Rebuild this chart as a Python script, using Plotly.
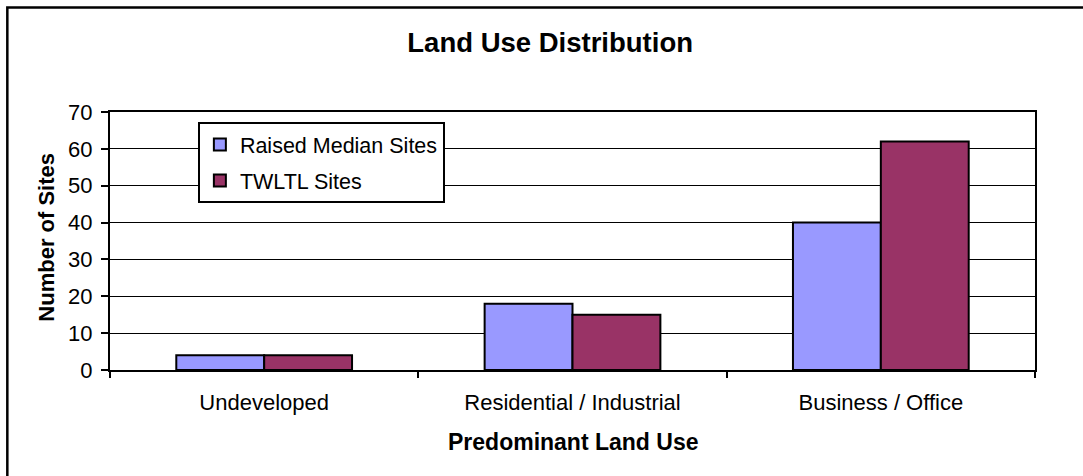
import plotly.graph_objects as go

# data
CATEGORIES   = ['Undeveloped', 'Residential / Industrial', 'Business / Office']
RAISED_MEDIAN = [4, 18, 40]
TWLTL         = [4, 15, 62]
Y_TICKS       = [0, 10, 20, 30, 40, 50, 60, 70]

BLUE   = '#9999FF'
MAROON = '#993366'
FONT   = 'Arial, Liberation Sans, sans-serif'

fig = go.Figure()
fig.add_trace(go.Bar(x=CATEGORIES, y=RAISED_MEDIAN, name='Raised Median Sites',
                     legendgroup='a',
                     marker=dict(color=BLUE, line=dict(color='black', width=2))))
fig.add_trace(go.Bar(x=CATEGORIES, y=TWLTL, name='TWLTL Sites',
                     legendgroup='b',
                     marker=dict(color=MAROON, line=dict(color='black', width=2))))

fig.update_layout(
    width=1083, height=476,
    margin=dict(l=110, r=48, t=112, b=106),
    paper_bgcolor='white', plot_bgcolor='white',
    font=dict(family=FONT, color='black', size=22),
    barmode='group', bargap=0.43, bargroupgap=0,
    title=dict(text='Land Use Distribution', x=0.508, xref='container',
               xanchor='center', y=0.912, yanchor='middle',
               font=dict(size=27.5, weight='bold', family=FONT, color='black')),
    legend=dict(x=0.095, y=0.961, xanchor='left', yanchor='top',
                bgcolor='white', bordercolor='black', borderwidth=2,
                font=dict(size=21.5), traceorder='grouped', tracegroupgap=5),
    showlegend=True,
)

fig.update_xaxes(
    showline=True, linecolor='black', linewidth=2, mirror=True,
    ticks='outside', tickson='boundaries', ticklen=6, tickwidth=2,
    tickcolor='black', showgrid=False, ticklabelstandoff=12,
)
fig.update_yaxes(
    range=[0, 70], tickvals=Y_TICKS, showline=True, linecolor='black',
    linewidth=2, mirror=True, ticks='outside', ticklen=7, tickwidth=2,
    tickcolor='black', ticklabelstandoff=4,
    showgrid=True, gridcolor='black', gridwidth=1, zeroline=False,
)

# axis titles
fig.add_annotation(text='Predominant Land Use', xref='paper', yref='paper',
                   x=0.5, y=-0.279, xanchor='center', yanchor='middle',
                   showarrow=False, font=dict(size=23, weight='bold'))
fig.add_annotation(text='Number of Sites', xref='paper', yref='paper',
                   x=-0.069, y=0.5136, xanchor='center', yanchor='middle',
                   textangle=-90, showarrow=False,
                   font=dict(size=22, weight='bold'))

# chart frame (right/bottom edges fall outside the picture)
fig.add_shape(type='rect', xref='paper', yref='paper',
              x0=-0.111, x1=1.2, y0=-0.7, y1=1.405,
              line=dict(color='black', width=2.5), layer='below')

fig.write_html('out.html', config={'displayModeBar': False},
               post_script="document.body.style.margin='0';")
